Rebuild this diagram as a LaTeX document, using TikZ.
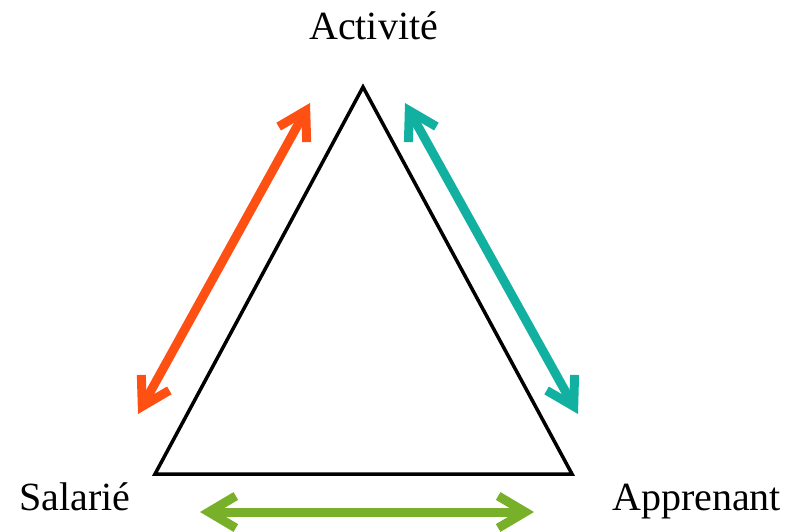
\documentclass[tikz,border=0pt]{standalone}
\usepackage{fontspec}
\setmainfont{Liberation Serif}
\usepackage{tikz}
\usetikzlibrary{arrows.meta}
\definecolor{ArrowOrange}{HTML}{FF5014}
\definecolor{ArrowTeal}{HTML}{12B0A0}
\definecolor{ArrowGreen}{HTML}{78B02A}
\tikzset{
  pole/.style={font=\fontsize{40}{44}\selectfont, inner sep=0pt, anchor=base west},
  barbtip/.tip={Straight Barb[length=27pt,width=32pt,line width=9pt]},
  link/.style={line width=9pt, {barbtip}-{barbtip}}
}
\begin{document}
\begin{tikzpicture}[x=1pt, y=-1pt]
		\useasboundingbox (0,0) rectangle (799,531);
		\coordinate (top) at (363,87);
		\coordinate (left) at (155,474);
		\coordinate (right) at (572,474);
		\draw[line width=3.5pt, line join=miter] (top) -- (left) -- (right) -- cycle;
		\node[pole] (activite) at (309,39) {Activité};
		\node[pole] (salarie) at (19,510) {Salarié};
		\node[pole] (apprenant) at (612,510) {Apprenant};
		\coordinate (oa) at (310,103);
		\coordinate (ob) at (138,414);
		\coordinate (ta) at (405,103);
		\coordinate (tb) at (578,414);
		\coordinate (ga) at (200,512);
		\coordinate (gb) at (534,512);
		\draw[link, color=ArrowOrange] (oa) -- (ob);
		\draw[link, color=ArrowTeal] (ta) -- (tb);
		\draw[link, color=ArrowGreen] (ga) -- (gb);
	\end{tikzpicture}
\end{document}
